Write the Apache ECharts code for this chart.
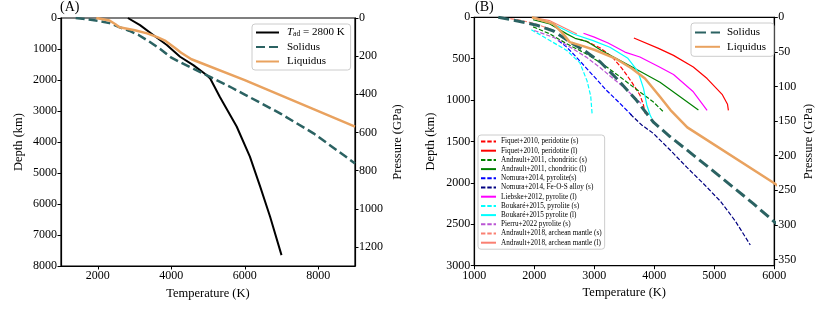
<!DOCTYPE html>
<html>
<head>
<meta charset="utf-8">
<script src="https://cdn.jsdelivr.net/npm/echarts@6/dist/echarts.min.js"></script>
<style>
html,body{margin:0;padding:0;background:#fff;}
#c{width:830px;height:313px;}
</style>
</head>
<body>
<div id="c"></div>
<script>
// ---------- DATA ----------
// Panel A ticks
const tempTicksA = [2000, 4000, 6000, 8000];
const depthTicksA = [0, 1000, 2000, 3000, 4000, 5000, 6000, 7000, 8000];
const pressureTicksA = [0, 200, 400, 600, 800, 1000, 1200];
// Panel B ticks
const tempTicksB = [1000, 2000, 3000, 4000, 5000, 6000];
const depthTicksB = [0, 500, 1000, 1500, 2000, 2500, 3000];
const pressureTicksB = [0, 50, 100, 150, 200, 250, 300, 350];

// [Temperature K, Depth km]
const adiabat2800 = [[2820,0],[3150,230],[3510,550],[3880,870],[4240,1250],[4600,1520],[4960,1840],[5060,1950],[5320,2540],[5420,2750],[5780,3500],[6140,4470],[6420,5440],[6690,6410],[7000,7650]];
const solidus = [[1400,0],[1760,50],[2040,95],[2320,165],[2600,300],[2850,410],[3100,540],[3400,760],[3700,1000],[3990,1270],[4260,1440],[4540,1600],[5100,1925],[5650,2250],[6000,2470],[6960,3075],[7870,3720],[9000,4690]];
const liquidus = [[1960,0],[2320,80],[2480,200],[2590,300],[2800,345],[3010,395],[3345,495],[3620,616],[3845,740],[4095,960],[4270,1120],[4550,1330],[6000,2005],[9000,3505]];

const fiquetS = [[2750,265],[2900,300],[3100,370],[3300,480],[3460,616],[3620,778],[3760,938],[3820,1060],[3845,1160]];
const fiquetL = [[3660,250],[4070,375],[4320,460],[4650,600],[4880,740],[5130,930],[5220,1050],[5235,1125]];
const andrault11S = [[1980,115],[2260,200],[2540,320],[2870,443],[3150,570],[3430,720],[3700,870],[3980,1020],[4150,1140]];
const andrault11L = [[1980,30],[2260,80],[2540,200],[2680,254],[2870,290],[3120,400],[3570,576],[4095,785],[4430,960],[4735,1120]];
const nomuraPyr = [[2400,280],[2540,360],[2700,480],[2900,640],[3040,750],[3200,880],[3400,1020],[3620,1180]];
const nomuraFeOS = [[3600,1170],[3790,1300],[3980,1400],[4260,1600],[4540,1810],[4820,2010],[5100,2220],[5350,2460],[5600,2750]];
const liebske = [[2820,193],[3000,240],[3230,310],[3510,420],[3760,480],[4070,595],[4320,690],[4650,900],[4880,1125]];
const boukareS = [[1950,150],[2260,280],[2540,400],[2760,550],[2880,770],[2940,950],[2965,1180]];
const boukareL = [[2250,60],[2650,202],[2980,282],[3260,362],[3560,495],[3730,657],[3820,858],[3875,1059],[3930,1180],[3956,1220]];
const pierru = [[2000,160],[2320,242],[2600,362],[2870,483],[3100,610],[3510,858],[3780,1040]];
const andrault18S = [[1600,15],[1800,40],[2000,75],[2300,150]];
const andrault18L = [[1990,5],[2260,41],[2540,141],[2710,202]];

const litNames = ['Fiquet+2010, peridotite (s)','Fiquet+2010, peridotite (l)','Andrault+2011, chondritic (s)','Andrault+2011, chondritic (l)','Nomura+2014, pyrolite(s)','Nomura+2014, Fe-O-S alloy (s)','Liebske+2012, pyrolite (l)','Boukaré+2015, pyrolite (s)','Boukaré+2015 pyrolite (l)','Pierru+2022 pyrolite (s)','Andrault+2018, archean mantle (s)','Andrault+2018, archean mantle (l)'];
const litData = [fiquetS, fiquetL, andrault11S, andrault11L, nomuraPyr, nomuraFeOS, liebske, boukareS, boukareL, pierru, andrault18S, andrault18L];
const litColors = ['#ff0000','#ff0000','#008000','#008000','#0000ff','#000080','#ff00ff','#00ffff','#00ffff','#ba55d3','#fa8072','#fa8072'];
const litDashed = [true,false,true,false,true,true,false,true,false,true,true,false];

// ---------- STYLE ----------
const FF = "'Liberation Serif','DejaVu Serif',serif";
const TEAL = '#2b6262';
const ORANGE = '#e9a25f';
const axLine = {show:true, onZero:false, lineStyle:{color:'#000', width:1.2}};
const axTick = (vals) => ({show:true, inside:false, length:3.5, lineStyle:{color:'#000', width:1}, customValues: vals});
const axLab = (vals) => ({show:true, color:'#000', fontFamily:FF, fontSize:12, margin:4, customValues: vals, formatter:(v)=>String(v)});

function line(name, data, xi, yi, color, width, dash, z) {
  return {
    type:'line', name, data, xAxisIndex:xi, yAxisIndex:yi,
    symbol:'none', showSymbol:false, smooth:false, clip:true, silent:true,
    legendIcon:'rect',
    z: z || 2,
    lineStyle:{color, width, type: dash ? dash : 'solid', cap:'butt', join:'round'},
    itemStyle:{color, opacity:0}
  };
}

const series = [];
// Panel A
series.push(line('Tad', adiabat2800, 0, 0, '#000', 2, null, 3));
series.push(line('Solidus', solidus, 0, 0, TEAL, 2.5, [9,4], 3));
series.push(line('Liquidus', liquidus, 0, 0, ORANGE, 2.5, null, 3));
// Panel B literature
for (let i = 0; i < litNames.length; i++) {
  series.push(line(litNames[i], litData[i], 1, 2, litColors[i], 1.2, litDashed[i] ? [4.4,1.9] : null, 2));
}
series.push(line('Solidus ', solidus, 1, 2, TEAL, 3, [11,4.8], 4));
series.push(line('Liquidus ', liquidus, 1, 2, ORANGE, 2.5, null, 4));

const legendCommon = {
  orient:'vertical', selectedMode:false,
  borderColor:'#cccccc', borderWidth:1, borderRadius:3, backgroundColor:'rgba(255,255,255,0.8)',
  itemStyle:{opacity:0, borderWidth:0}
};

const option = {
  animation:false,
  backgroundColor:'#fff',
  textStyle:{fontFamily:FF},
  title:[
    {text:'(A)', left:60, top:0, padding:0, textStyle:{fontFamily:FF, fontSize:14, fontWeight:'normal', color:'#000'}},
    {text:'(B)', left:475, top:0, padding:0, textStyle:{fontFamily:FF, fontSize:14, fontWeight:'normal', color:'#000'}}
  ],
  grid:[
    {left:61, right:475, top:18, bottom:47, show:true, borderColor:'#000', borderWidth:1.2, backgroundColor:'transparent', containLabel:false, outerBoundsMode:'none'},
    {left:474.3, right:55.7, top:17.3, bottom:47.3, show:true, borderColor:'#000', borderWidth:1.2, backgroundColor:'transparent', containLabel:false, outerBoundsMode:'none'}
  ],
  xAxis:[
    {type:'value', gridIndex:0, min:1000, max:9000, position:'bottom',
     name:'Temperature (K)', nameLocation:'middle', nameGap:20,
     nameTextStyle:{fontFamily:FF, fontSize:12.5, color:'#000'},
     axisLine:axLine, axisTick:axTick(tempTicksA), axisLabel:axLab(tempTicksA), splitLine:{show:false}},
    {type:'value', gridIndex:1, min:1000, max:6000, interval:1000, position:'bottom',
     name:'Temperature (K)', nameLocation:'middle', nameGap:20,
     nameTextStyle:{fontFamily:FF, fontSize:12.5, color:'#000'},
     axisLine:axLine, axisTick:axTick(tempTicksB), axisLabel:axLab(tempTicksB), splitLine:{show:false}}
  ],
  yAxis:[
    {type:'value', gridIndex:0, min:0, max:8000, inverse:true, position:'left',
     name:'Depth (km)', nameLocation:'middle', nameGap:36, nameRotate:90,
     nameTextStyle:{fontFamily:FF, fontSize:12.5, color:'#000'},
     axisLine:axLine, axisTick:axTick(depthTicksA), axisLabel:axLab(depthTicksA), splitLine:{show:false}},
    {type:'value', gridIndex:0, min:0, max:1300, inverse:true, position:'right',
     name:'Pressure (GPa)', nameLocation:'middle', nameGap:36, nameRotate:90,
     nameTextStyle:{fontFamily:FF, fontSize:12.5, color:'#000'},
     axisLine:axLine, axisTick:axTick(pressureTicksA), axisLabel:axLab(pressureTicksA), splitLine:{show:false}},
    {type:'value', gridIndex:1, min:0, max:3000, inverse:true, position:'left',
     name:'Depth (km)', nameLocation:'middle', nameGap:37, nameRotate:90,
     nameTextStyle:{fontFamily:FF, fontSize:12.5, color:'#000'},
     axisLine:axLine, axisTick:axTick(depthTicksB), axisLabel:axLab(depthTicksB), splitLine:{show:false}},
    {type:'value', gridIndex:1, min:0, max:359, inverse:true, position:'right',
     name:'Pressure (GPa)', nameLocation:'middle', nameGap:28, nameRotate:90,
     nameTextStyle:{fontFamily:FF, fontSize:12.5, color:'#000'},
     axisLine:axLine, axisTick:axTick(pressureTicksB), axisLabel:axLab(pressureTicksB), splitLine:{show:false}}
  ],
  legend:[
    Object.assign({}, legendCommon, {data:['Tad','Solidus','Liquidus'], left:252, top:24,
     itemWidth:23, itemHeight:12, itemGap:3.5, padding:[3,6,3,3],
     formatter:(n)=> n==='Tad' ? '{i|T}{s|ad}{r| = 2800 K}' : n,
     textStyle:{fontFamily:FF, fontSize:11, color:'#000', padding:[0,0,0,3],
       rich:{i:{fontFamily:FF, fontSize:11, fontStyle:'italic', color:'#000'},
             s:{fontFamily:FF, fontSize:7.5, color:'#000', verticalAlign:'bottom', padding:[3,0,0,0]},
             r:{fontFamily:FF, fontSize:11, color:'#000'}}}}),
    Object.assign({}, legendCommon, {data:litNames, left:478, top:135,
     itemWidth:15, itemHeight:8, itemGap:2.2, padding:[3,3,3,2],
     textStyle:{fontFamily:FF, fontSize:7.2, color:'#000'}}),
    Object.assign({}, legendCommon, {data:['Solidus ','Liquidus '], left:691, top:23,
     itemWidth:25, itemHeight:12, itemGap:3.3, padding:[4,5,4,3],
     textStyle:{fontFamily:FF, fontSize:11, color:'#000', padding:[0,0,0,2]}})
  ],
  series
};

const chart = echarts.init(document.getElementById('c'), null, {renderer:'canvas', width:830, height:313});
chart.setOption(option);
</script>
</body>
</html>
